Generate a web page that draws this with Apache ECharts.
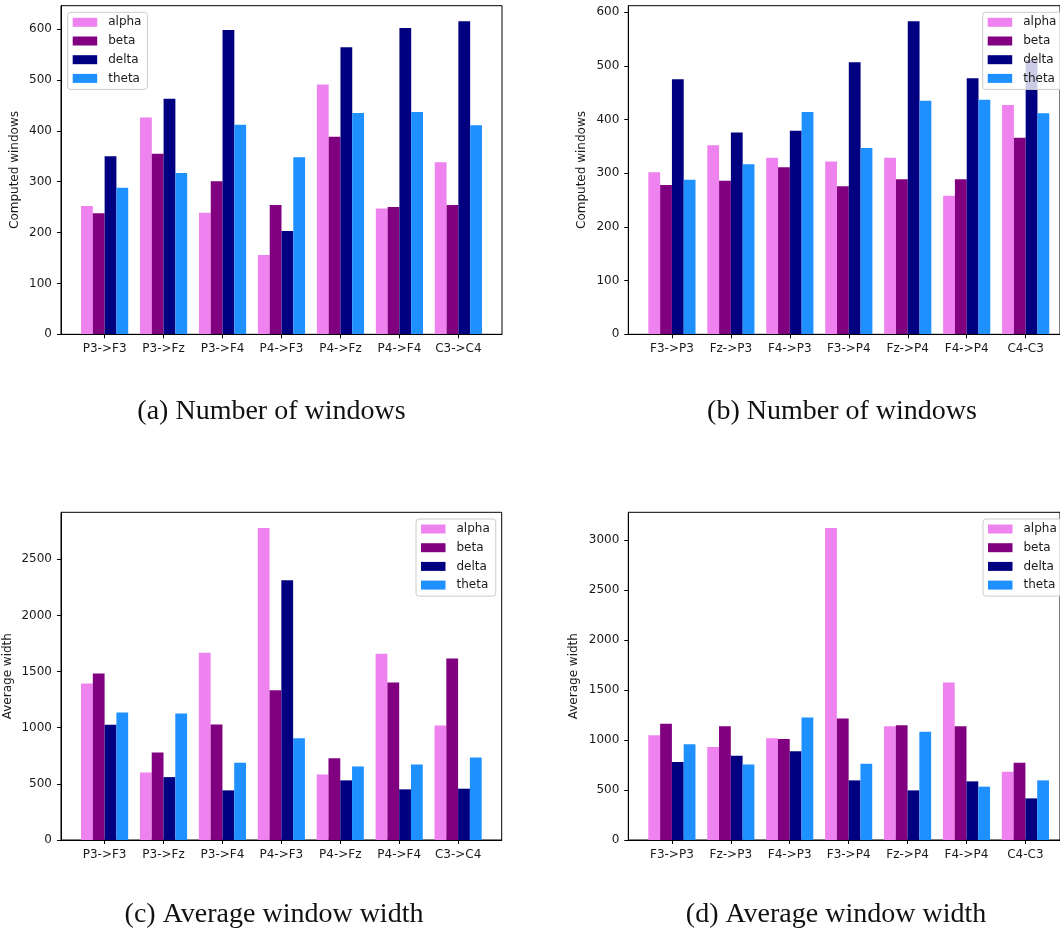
<!DOCTYPE html>
<html>
<head>
<meta charset="utf-8">
<title>EEG band windows</title>
<script src="https://cdn.jsdelivr.net/npm/echarts@6/dist/echarts.min.js"></script>
<style>
  html, body { margin: 0; padding: 0; background: #ffffff; }
  #chart { width: 1060px; height: 934px; }
</style>
</head>
<body>
<div id="chart"></div>
<script>
// Channel pairs
const pairsLeft = ['P3->F3', 'P3->Fz', 'P3->F4', 'P4->F3', 'P4->Fz', 'P4->F4', 'C3->C4'];
const pairsRight = ['F3->P3', 'Fz->P3', 'F4->P3', 'F3->P4', 'Fz->P4', 'F4->P4', 'C4-C3'];

const bandNames = ['alpha', 'beta', 'delta', 'theta'];
const bandColors = ['#ee82ee', '#800080', '#000080', '#1e90ff'];

// (a) number of computed windows
const windowsA_alpha = [252, 426, 239, 156, 491, 247, 338];
const windowsA_beta  = [238, 355, 301, 254, 388, 250, 254];
const windowsA_delta = [350, 463, 598, 203, 564, 602, 615];
const windowsA_theta = [288, 317, 412, 348, 435, 437, 411];

// (b) number of computed windows
const windowsB_alpha = [302, 352, 329, 322, 329, 258, 427];
const windowsB_beta  = [278, 286, 311, 276, 289, 289, 366];
const windowsB_delta = [475, 376, 379, 507, 583, 477, 511];
const windowsB_theta = [288, 317, 414, 347, 435, 437, 412];

// (c) average window width
const widthC_alpha = [1394, 602, 1667, 2779, 584, 1658, 1020];
const widthC_beta  = [1483, 780, 1029, 1334, 727, 1403, 1616];
const widthC_delta = [1026, 560, 442, 2313, 531, 451, 457];
const widthC_theta = [1136, 1127, 688, 907, 655, 673, 735];

// (d) average window width
const widthD_alpha = [1046, 929, 1016, 3120, 1136, 1575, 683];
const widthD_beta  = [1162, 1136, 1009, 1215, 1146, 1136, 773];
const widthD_delta = [779, 842, 886, 596, 496, 586, 416];
const widthD_theta = [956, 756, 1225, 763, 1082, 533, 596];

// Y tick labels
const ticksWindows = [0, 100, 200, 300, 400, 500, 600];
const ticksWidthC = [0, 500, 1000, 1500, 2000, 2500];
const ticksWidthD = [0, 500, 1000, 1500, 2000, 2500, 3000];

const captions = ['(a) Number of windows', '(b) Number of windows',
                  '(c) Average window width', '(d) Average window width'];

const SANS = 'DejaVu Sans';
const SERIF = 'Liberation Serif';
const TEXT = '#1a1a1a';

const panels = [
  { cats: pairsLeft,  data: [windowsA_alpha, windowsA_beta, windowsA_delta, windowsA_theta],
    ticks: ticksWindows, yName: 'Computed windows', nameGap: 40,
    frame: { left: 61, top: 5.7, width: 441, height: 328.6 },
    legend: { left: 67.7, top: 12.3 }, caption: { x: 271.5, y: 412 } },
  { cats: pairsRight, data: [windowsB_alpha, windowsB_beta, windowsB_delta, windowsB_theta],
    ticks: ticksWindows, yName: 'Computed windows', nameGap: 40,
    frame: { left: 628.3, top: 5.7, width: 441, height: 328.6 },
    legend: { left: 982.7, top: 12.3 }, caption: { x: 842, y: 412 } },
  { cats: pairsLeft,  data: [widthC_alpha, widthC_beta, widthC_delta, widthC_theta],
    ticks: ticksWidthC, yName: 'Average width', nameGap: 47.5,
    frame: { left: 61, top: 512.3, width: 440.7, height: 327.7 },
    legend: { left: 416, top: 519 }, caption: { x: 274, y: 915 } },
  { cats: pairsRight, data: [widthD_alpha, widthD_beta, widthD_delta, widthD_theta],
    ticks: ticksWidthD, yName: 'Average width', nameGap: 48,
    frame: { left: 628.3, top: 512.3, width: 440.7, height: 327.7 },
    legend: { left: 983, top: 519 }, caption: { x: 836, y: 915 } }
];

const grid = [], xAxis = [], yAxis = [], series = [], legend = [], graphic = [];

panels.forEach((p, i) => {
  const f = p.frame;
  // x range spans from -0.74 to 6.74 category units (7 groups + margins)
  const band = f.width / 7.48;
  const yMax = Math.max(...p.data.flat()) * 1.05;
  const fi = grid.length;      // frame grid (box + y axis)
  const ii = fi + 1;           // inner grid (categories + bars)

  grid.push({
    left: f.left, top: f.top, width: f.width, height: f.height,
    show: true, borderColor: '#000', borderWidth: 1, backgroundColor: 'transparent'
  });
  grid.push({
    left: f.left + 0.24 * band, top: f.top, width: 7 * band, height: f.height
  });

  xAxis.push({
    gridIndex: fi, type: 'value', min: 0, max: 1, z: 10,
    axisLine: { show: true, lineStyle: { color: '#000', width: 1 } },
    axisTick: { show: false }, axisLabel: { show: false }, splitLine: { show: false }
  });
  xAxis.push({
    gridIndex: ii, type: 'category', data: p.cats,
    axisLine: { show: false },
    axisTick: { show: true, alignWithLabel: true, length: 4, lineStyle: { color: '#000' } },
    axisLabel: { margin: 9, color: TEXT, fontFamily: SANS, fontSize: 12, interval: 0 },
    splitLine: { show: false }
  });

  yAxis.push({
    gridIndex: fi, type: 'value', min: 0, max: yMax, z: 10,
    name: p.yName, nameLocation: 'middle', nameGap: p.nameGap,
    nameTextStyle: { color: TEXT, fontFamily: SANS, fontSize: 12 },
    axisLine: { show: true, lineStyle: { color: '#000', width: 1 } },
    axisTick: { show: true, length: 4, customValues: p.ticks, lineStyle: { color: '#000' } },
    axisLabel: {
      margin: 9, color: TEXT, fontFamily: SANS, fontSize: 12, customValues: p.ticks,
      formatter: (v) => String(v)
    },
    splitLine: { show: false }
  });
  yAxis.push({
    gridIndex: ii, type: 'value', min: 0, max: yMax, show: false, splitLine: { show: false }
  });

  bandNames.forEach((name, k) => {
    series.push({
      type: 'bar', name: name, data: p.data[k],
      xAxisIndex: ii, yAxisIndex: ii,
      barWidth: band * 0.2, barGap: '0%',
      itemStyle: { color: bandColors[k] },
      emphasis: { disabled: true }
    });
  });

  legend.push({
    data: bandNames, orient: 'vertical', left: p.legend.left, top: p.legend.top,
    itemWidth: 24.5, itemHeight: 9, itemGap: 4.7, icon: 'rect', selectedMode: false,
    padding: [3, 6, 4, 5],
    backgroundColor: 'rgba(255,255,255,0.8)', borderColor: '#cccccc', borderWidth: 1, borderRadius: 3,
    textStyle: { color: TEXT, fontFamily: SANS, fontSize: 12, lineHeight: 14, padding: [0, 0, 0, 6] },
    z: 20
  });

  graphic.push({
    type: 'text', x: p.caption.x, y: p.caption.y,
    style: {
      text: captions[i], fill: '#111', font: '28px "' + SERIF + '"',
      align: 'center', verticalAlign: 'middle'
    }
  });
});

const chart = echarts.init(document.getElementById('chart'), null, { renderer: 'canvas' });
chart.setOption({
  animation: false,
  backgroundColor: '#ffffff',
  tooltip: { show: false },
  grid, xAxis, yAxis, series, legend, graphic
});
</script>
</body>
</html>
